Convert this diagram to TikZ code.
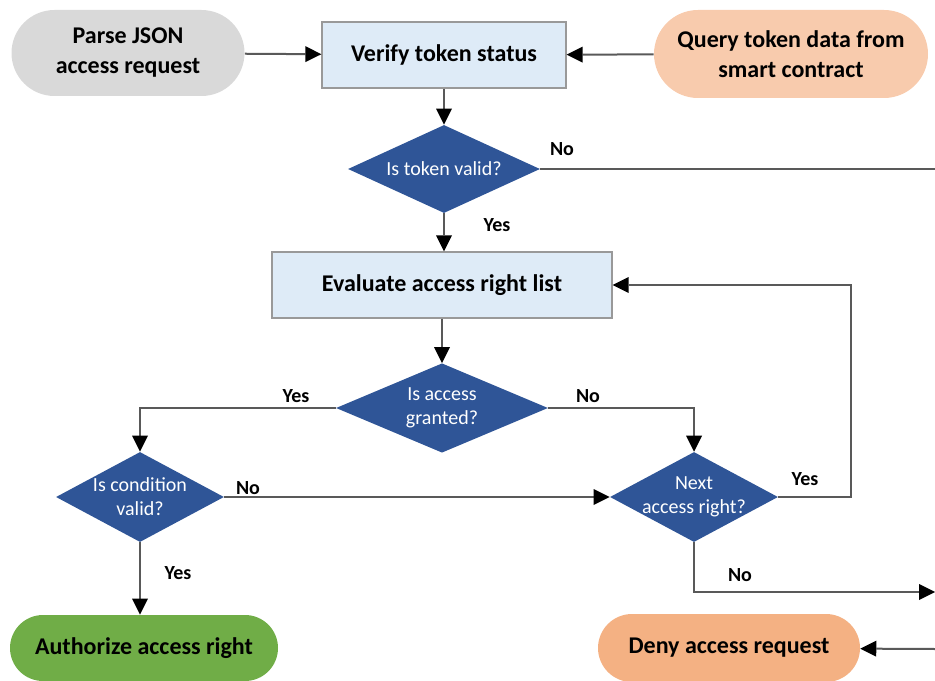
\documentclass[tikz,border=0pt]{standalone}
\usepackage{fontspec}
\setmainfont{Carlito}
\usetikzlibrary{shapes.geometric,shapes.misc,arrows.meta}
\definecolor{termgrey}{HTML}{D9D9D9}
\definecolor{termpeach}{HTML}{F8CBAD}
\definecolor{termorange}{HTML}{F4B183}
\definecolor{termgreen}{HTML}{70AD47}
\definecolor{procblue}{HTML}{DEEBF7}
\definecolor{decblue}{HTML}{2F5597}
\definecolor{linegrey}{HTML}{595959}
\begin{document}
\begin{tikzpicture}[x=0.75pt,y=-0.75pt,
    term/.style={rounded rectangle,inner sep=0pt,font=\bfseries\fontsize{18}{22.5}\selectfont,align=center},
    proc/.style={rectangle,draw=black!40,line width=1pt,fill=procblue,inner sep=0pt,font=\bfseries\fontsize{18}{22.5}\selectfont},
    dec/.style={diamond,fill=decblue,inner sep=0pt},
    dectext/.style={text=white,font=\fontsize{15}{18}\selectfont,align=center,inner sep=0pt},
    lbl/.style={font=\bfseries\fontsize{15}{18}\selectfont},
    flow/.style={draw=linegrey,line width=1.5pt,-{Triangle[width=12pt,length=12pt,color=black,line width=0pt]}},
    line/.style={draw=linegrey,line width=1.5pt}]
  \useasboundingbox (0,0) rectangle (935,681);
  % terminals and process boxes
  \node[term,fill=termgrey,minimum width=174.75pt,minimum height=64.5pt] (parse) at (128,53) {Parse JSON\\access request};
  \node[proc,minimum width=183pt,minimum height=49.5pt] (verify) at (444,55) {Verify token status};
  \node[term,fill=termpeach,minimum width=205.5pt,minimum height=66pt] (query) at (791,54) {Query token data from\\smart contract};
  \node[proc,minimum width=255pt,minimum height=49.5pt] (eval) at (442,285) {Evaluate access right list};
  \node[term,fill=termgreen,minimum width=201pt,minimum height=49.5pt] (auth) at (144,648) {Authorize access right};
  \node[term,fill=termorange,minimum width=196.5pt,minimum height=51pt] (deny) at (729,648) {Deny access request};
  % decisions
  \node[dec,minimum width=144pt,minimum height=66pt,label={[dectext]center:Is token valid?}] (valid) at (444,169) {};
  \node[dec,minimum width=159pt,minimum height=67pt,label={[dectext]center:Is access\\granted?}] (granted) at (442,408) {};
  \node[dec,minimum width=126pt,minimum height=67.5pt,label={[dectext]center:Is condition\\valid?}] (cond) at (140,497) {};
  \node[dec,minimum width=126pt,minimum height=67.5pt,label={[dectext]center:Next\\access right?}] (next) at (694,497) {};
  % free ends at the right edge
  \coordinate (edgeA) at (935,169);
  \coordinate (edgeB) at (935,592);
  \coordinate (edgeC) at (935,649);
  % connectors
  \draw[flow] (parse) -- (verify);
  \draw[flow] (query) -- (verify);
  \draw[flow] (verify) -- (valid);
  \draw[line] (valid.east) -- (edgeA);
  \draw[flow] (valid.south) -- (valid.south |- eval.north);
  \draw[flow] (eval.south -| granted.north) -- (granted.north);
  \draw[flow] (granted.west) -| (cond.north);
  \draw[flow] (granted.east) -| (next.north);
  \draw[flow] (cond.east) -- (next.west);
  \draw[flow] (cond.south) -- (cond.south |- auth.north);
  \draw[flow] (next.east) -- ++(73,0) |- (eval.east);
  \draw[flow] (next.south) |- (edgeB);
  \draw[flow] (edgeC) -- (deny);
  % labels
  \node[lbl] (noA) at (562,149) {No};
  \node[lbl] (yesA) at (497,225) {Yes};
  \node[lbl] (yesB) at (296,396) {Yes};
  \node[lbl] (noB) at (588,396) {No};
  \node[lbl] (noC) at (248,488) {No};
  \node[lbl] (yesC) at (805,479) {Yes};
  \node[lbl] (yesD) at (178,573) {Yes};
  \node[lbl] (noD) at (740,575) {No};
\end{tikzpicture}
\end{document}
